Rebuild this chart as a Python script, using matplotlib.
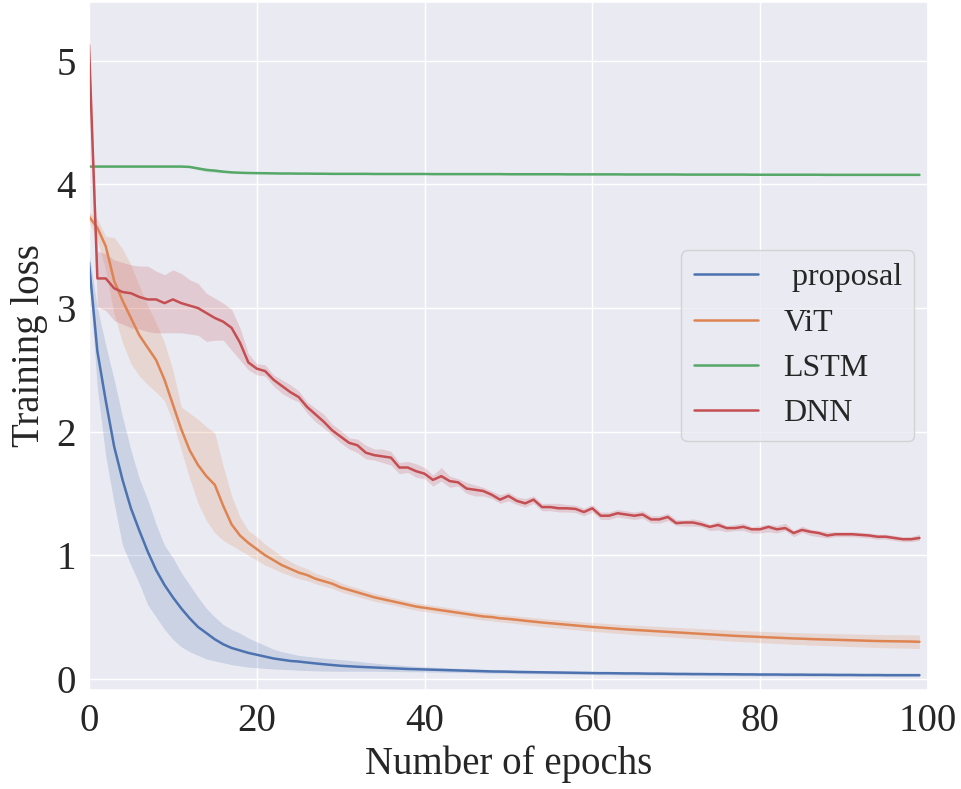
import numpy as np
import matplotlib.pyplot as plt
import seaborn as sns

# -----------------------------
# Data
# -----------------------------
epochs = np.arange(100)

proposal_mean = [
    3.37, 2.65, 2.25, 1.88, 1.61, 1.38, 1.20, 1.03, 0.88, 0.76,
    0.66, 0.57, 0.49, 0.42, 0.37, 0.32, 0.28, 0.25, 0.23, 0.21,
    0.195, 0.18, 0.165, 0.155, 0.145, 0.14, 0.132, 0.125, 0.118, 0.112,
    0.106, 0.102, 0.098, 0.095, 0.092, 0.089, 0.086, 0.083, 0.080, 0.078,
    0.076, 0.074, 0.072, 0.070, 0.068, 0.066, 0.064, 0.062, 0.060, 0.059,
    0.058, 0.056, 0.055, 0.054, 0.053, 0.052, 0.051, 0.050, 0.049, 0.048,
    0.047, 0.046, 0.046, 0.045, 0.044, 0.044, 0.043, 0.042, 0.042, 0.041,
    0.040, 0.040, 0.039, 0.039, 0.038, 0.038, 0.037, 0.037, 0.036, 0.036,
    0.035, 0.035, 0.035, 0.034, 0.034, 0.034, 0.033, 0.033, 0.033, 0.032,
    0.032, 0.032, 0.031, 0.031, 0.031, 0.030, 0.030, 0.030, 0.030, 0.030]
proposal_lo = [
    0.09, 0.30, 0.45, 0.46, 0.53, 0.46, 0.43, 0.43, 0.38, 0.36,
    0.34, 0.31, 0.27, 0.23, 0.21, 0.175, 0.15, 0.135, 0.125, 0.115,
    0.105, 0.095, 0.085, 0.078, 0.071, 0.07, 0.065, 0.06, 0.055, 0.05,
    0.045, 0.04, 0.036, 0.033, 0.03, 0.028, 0.026, 0.024, 0.022, 0.02,
    0.02, 0.019, 0.018, 0.017, 0.016, 0.015, 0.015, 0.014, 0.014, 0.013,
    0.013, 0.013, 0.013, 0.012, 0.012, 0.012, 0.012, 0.012, 0.012, 0.012,
    0.012, 0.012, 0.012, 0.012, 0.012, 0.012, 0.012, 0.012, 0.012, 0.012,
    0.012, 0.012, 0.012, 0.012, 0.012, 0.012, 0.012, 0.012, 0.012, 0.012,
    0.012, 0.012, 0.012, 0.012, 0.012, 0.012, 0.012, 0.012, 0.012, 0.012,
    0.012, 0.012, 0.012, 0.012, 0.012, 0.012, 0.012, 0.012, 0.012, 0.012]
proposal_hi = [
    0.08, 0.35, 0.45, 0.54, 0.51, 0.47, 0.42, 0.42, 0.37, 0.32,
    0.32, 0.29, 0.27, 0.24, 0.20, 0.18, 0.16, 0.15, 0.14, 0.12,
    0.105, 0.09, 0.075, 0.065, 0.06, 0.05, 0.05, 0.05, 0.05, 0.05,
    0.05, 0.048, 0.045, 0.04, 0.036, 0.032, 0.03, 0.028, 0.026, 0.024,
    0.022, 0.02, 0.02, 0.018, 0.018, 0.017, 0.016, 0.016, 0.015, 0.015,
    0.014, 0.014, 0.014, 0.014, 0.013, 0.013, 0.013, 0.013, 0.013, 0.013,
    0.013, 0.013, 0.013, 0.012, 0.012, 0.012, 0.012, 0.012, 0.012, 0.012,
    0.012, 0.012, 0.012, 0.012, 0.012, 0.012, 0.012, 0.012, 0.012, 0.012,
    0.012, 0.012, 0.012, 0.012, 0.012, 0.012, 0.012, 0.012, 0.012, 0.012,
    0.012, 0.012, 0.012, 0.012, 0.012, 0.012, 0.012, 0.012, 0.012, 0.012]

vit_mean = [
    3.74, 3.65, 3.50, 3.22, 3.06, 2.92, 2.78, 2.68, 2.58, 2.42,
    2.22, 2.02, 1.85, 1.73, 1.64, 1.57, 1.40, 1.25, 1.16, 1.10,
    1.05, 1.00, 0.96, 0.92, 0.89, 0.86, 0.84, 0.81, 0.79, 0.77,
    0.74, 0.72, 0.70, 0.68, 0.66, 0.645, 0.63, 0.615, 0.60, 0.585,
    0.575, 0.565, 0.555, 0.545, 0.535, 0.525, 0.515, 0.505, 0.50, 0.49,
    0.485, 0.478, 0.47, 0.463, 0.456, 0.45, 0.444, 0.438, 0.432, 0.426,
    0.42, 0.415, 0.41, 0.405, 0.40, 0.396, 0.392, 0.388, 0.384, 0.38,
    0.376, 0.372, 0.368, 0.364, 0.36, 0.356, 0.352, 0.348, 0.345, 0.342,
    0.339, 0.336, 0.333, 0.33, 0.327, 0.325, 0.322, 0.32, 0.318, 0.316,
    0.314, 0.312, 0.31, 0.308, 0.306, 0.305, 0.304, 0.303, 0.302, 0.30]
vit_lo = [
    0.04, 0.10, 0.20, 0.27, 0.34, 0.37, 0.33, 0.30, 0.26, 0.17,
    0.14, 0.17, 0.23, 0.31, 0.36, 0.39, 0.28, 0.17, 0.12, 0.10,
    0.09, 0.08, 0.07, 0.06, 0.055, 0.05, 0.045, 0.04, 0.04, 0.038,
    0.036, 0.035, 0.034, 0.033, 0.032, 0.031, 0.03, 0.03, 0.03, 0.03,
    0.03, 0.03, 0.03, 0.03, 0.03, 0.03, 0.03, 0.03, 0.03, 0.03,
    0.031, 0.031, 0.032, 0.032, 0.033, 0.033, 0.034, 0.034, 0.035, 0.035,
    0.036, 0.036, 0.037, 0.037, 0.038, 0.038, 0.039, 0.039, 0.04, 0.04,
    0.041, 0.041, 0.042, 0.042, 0.043, 0.043, 0.044, 0.044, 0.045, 0.045,
    0.046, 0.046, 0.047, 0.047, 0.048, 0.048, 0.049, 0.049, 0.05, 0.05,
    0.051, 0.051, 0.052, 0.052, 0.053, 0.053, 0.054, 0.054, 0.055, 0.055]
vit_hi = [
    0.04, 0.07, 0.08, 0.35, 0.42, 0.43, 0.40, 0.34, 0.30, 0.30,
    0.28, 0.18, 0.30, 0.37, 0.40, 0.42, 0.32, 0.23, 0.15, 0.10,
    0.10, 0.09, 0.08, 0.07, 0.06, 0.055, 0.05, 0.045, 0.042, 0.04,
    0.038, 0.036, 0.035, 0.034, 0.033, 0.032, 0.031, 0.03, 0.03, 0.03,
    0.03, 0.03, 0.03, 0.03, 0.03, 0.03, 0.03, 0.03, 0.03, 0.03,
    0.031, 0.031, 0.032, 0.032, 0.033, 0.033, 0.034, 0.034, 0.035, 0.035,
    0.036, 0.036, 0.037, 0.037, 0.038, 0.038, 0.039, 0.039, 0.04, 0.04,
    0.041, 0.041, 0.042, 0.042, 0.043, 0.043, 0.044, 0.044, 0.045, 0.045,
    0.046, 0.046, 0.047, 0.047, 0.048, 0.048, 0.049, 0.049, 0.05, 0.05,
    0.051, 0.051, 0.052, 0.052, 0.053, 0.053, 0.054, 0.054, 0.055, 0.055]

lstm_mean = [
    4.145, 4.145, 4.145, 4.145, 4.145, 4.145, 4.145, 4.145, 4.145, 4.145,
    4.145, 4.145, 4.142, 4.130, 4.118, 4.112, 4.104, 4.098, 4.095, 4.093,
    4.092, 4.091, 4.090, 4.089, 4.089, 4.088, 4.088, 4.087, 4.087, 4.086,
    4.086, 4.086, 4.086, 4.086, 4.085, 4.085, 4.085, 4.085, 4.085, 4.085,
    4.085, 4.084, 4.084, 4.084, 4.084, 4.084, 4.084, 4.084, 4.084, 4.084,
    4.083, 4.083, 4.083, 4.083, 4.083, 4.083, 4.083, 4.082, 4.082, 4.082,
    4.082, 4.082, 4.082, 4.082, 4.081, 4.081, 4.081, 4.081, 4.081, 4.081,
    4.081, 4.080, 4.080, 4.080, 4.080, 4.080, 4.080, 4.080, 4.080, 4.079,
    4.079, 4.079, 4.079, 4.079, 4.079, 4.079, 4.079, 4.079, 4.078, 4.078,
    4.078, 4.078, 4.078, 4.078, 4.078, 4.078, 4.078, 4.078, 4.078, 4.078]
lstm_err = [
    0.004, 0.004, 0.004, 0.004, 0.004, 0.004, 0.004, 0.004, 0.004, 0.004,
    0.004, 0.004, 0.006, 0.012, 0.014, 0.014, 0.010, 0.006, 0.005, 0.004,
    0.004, 0.004, 0.004, 0.004, 0.004, 0.004, 0.004, 0.004, 0.004, 0.004,
    0.004, 0.004, 0.004, 0.004, 0.004, 0.004, 0.004, 0.004, 0.004, 0.004,
    0.004, 0.004, 0.004, 0.004, 0.004, 0.004, 0.004, 0.004, 0.004, 0.004,
    0.004, 0.004, 0.004, 0.004, 0.004, 0.004, 0.004, 0.004, 0.004, 0.004,
    0.004, 0.004, 0.004, 0.004, 0.004, 0.004, 0.004, 0.004, 0.004, 0.004,
    0.004, 0.004, 0.004, 0.004, 0.004, 0.004, 0.004, 0.004, 0.004, 0.004,
    0.004, 0.004, 0.004, 0.004, 0.004, 0.004, 0.004, 0.004, 0.004, 0.004,
    0.004, 0.004, 0.004, 0.004, 0.004, 0.004, 0.004, 0.004, 0.004, 0.004]

dnn_mean = [
    5.13, 3.24, 3.24, 3.16, 3.13, 3.12, 3.09, 3.07, 3.07, 3.04,
    3.07, 3.04, 3.02, 3.00, 2.96, 2.92, 2.89, 2.84, 2.72, 2.56,
    2.51, 2.49, 2.42, 2.37, 2.32, 2.28, 2.20, 2.14, 2.08, 2.01,
    1.96, 1.91, 1.89, 1.83, 1.81, 1.80, 1.79, 1.71, 1.71, 1.68,
    1.66, 1.61, 1.64, 1.60, 1.59, 1.54, 1.53, 1.52, 1.49, 1.45,
    1.48, 1.44, 1.42, 1.45, 1.39, 1.39, 1.38, 1.38, 1.375, 1.35,
    1.38, 1.32, 1.32, 1.34, 1.33, 1.32, 1.33, 1.29, 1.29, 1.31,
    1.26, 1.265, 1.265, 1.25, 1.23, 1.245, 1.22, 1.22, 1.23, 1.21,
    1.21, 1.23, 1.21, 1.22, 1.18, 1.205, 1.19, 1.18, 1.16, 1.17,
    1.17, 1.17, 1.165, 1.16, 1.15, 1.15, 1.14, 1.13, 1.13, 1.14]
dnn_lo = [
    0.08, 0.23, 0.26, 0.26, 0.26, 0.28, 0.26, 0.26, 0.27, 0.24,
    0.27, 0.24, 0.23, 0.22, 0.23, 0.18, 0.15, 0.18, 0.14, 0.06,
    0.05, 0.04, 0.05, 0.06, 0.05, 0.04, 0.05, 0.06, 0.05, 0.04,
    0.05, 0.05, 0.06, 0.05, 0.04, 0.05, 0.06, 0.05, 0.04, 0.05,
    0.04, 0.05, 0.04, 0.05, 0.03, 0.04, 0.05, 0.04, 0.03, 0.03,
    0.04, 0.03, 0.03, 0.03, 0.03, 0.03, 0.03, 0.03, 0.03, 0.03,
    0.03, 0.03, 0.03, 0.03, 0.03, 0.03, 0.03, 0.03, 0.03, 0.03,
    0.02, 0.03, 0.03, 0.02, 0.03, 0.04, 0.03, 0.02, 0.03, 0.03,
    0.03, 0.04, 0.03, 0.02, 0.03, 0.02, 0.03, 0.03, 0.02, 0.02,
    0.02, 0.02, 0.02, 0.02, 0.02, 0.02, 0.02, 0.02, 0.02, 0.02]
dnn_hi = [
    0.05, 0.22, 0.20, 0.23, 0.24, 0.23, 0.25, 0.27, 0.23, 0.23,
    0.24, 0.24, 0.21, 0.20, 0.16, 0.16, 0.15, 0.15, 0.12, 0.07,
    0.04, 0.05, 0.04, 0.05, 0.06, 0.05, 0.04, 0.05, 0.06, 0.05,
    0.05, 0.04, 0.05, 0.06, 0.05, 0.06, 0.05, 0.04, 0.05, 0.06,
    0.05, 0.04, 0.07, 0.04, 0.03, 0.05, 0.04, 0.03, 0.03, 0.04,
    0.03, 0.03, 0.04, 0.03, 0.03, 0.03, 0.04, 0.03, 0.03, 0.03,
    0.03, 0.03, 0.03, 0.03, 0.03, 0.03, 0.03, 0.03, 0.03, 0.03,
    0.03, 0.02, 0.03, 0.03, 0.02, 0.03, 0.02, 0.03, 0.03, 0.02,
    0.03, 0.02, 0.03, 0.04, 0.02, 0.03, 0.02, 0.02, 0.03, 0.02,
    0.02, 0.02, 0.02, 0.02, 0.02, 0.02, 0.02, 0.02, 0.02, 0.03]

labels = [" proposal", "ViT", "LSTM", "DNN"]

# -----------------------------
# Style
# -----------------------------
sns.set_theme(style="darkgrid")
plt.rcParams['font.family'] = ['Liberation Serif', 'DejaVu Serif']
colors = sns.color_palette("deep")

fig = plt.figure(figsize=(9.62, 7.89), dpi=100)
ax = fig.add_axes([0.0925, 0.1255, 0.872, 0.8725])

series = [
    (proposal_mean, proposal_lo, proposal_hi),
    (vit_mean, vit_lo, vit_hi),
    (lstm_mean, lstm_err, lstm_err),
    (dnn_mean, dnn_lo, dnn_hi),
]

for (mean, lo, hi), lab, c in zip(series, labels, colors):
    mean = np.array(mean)
    ax.fill_between(epochs, mean - np.array(lo), mean + np.array(hi),
                    color=c, alpha=0.2, linewidth=0)
    ax.plot(epochs, mean, color=c, linewidth=1.8, label=lab)

ax.set_xlim(0, 100)
ax.set_ylim(-0.09, 5.48)
ax.set_xticks([0, 20, 40, 60, 80, 100])
ax.set_yticks([0, 1, 2, 3, 4, 5])
ax.tick_params(labelsize=28)
ax.set_xlabel("Number of epochs", fontsize=28, labelpad=4)
ax.set_ylabel("Training loss", fontsize=28, labelpad=6)

ax.legend(loc="center right", bbox_to_anchor=(0.984, 0.5), borderaxespad=0,
          fontsize=23)

fig.savefig("out.png", dpi=100)
